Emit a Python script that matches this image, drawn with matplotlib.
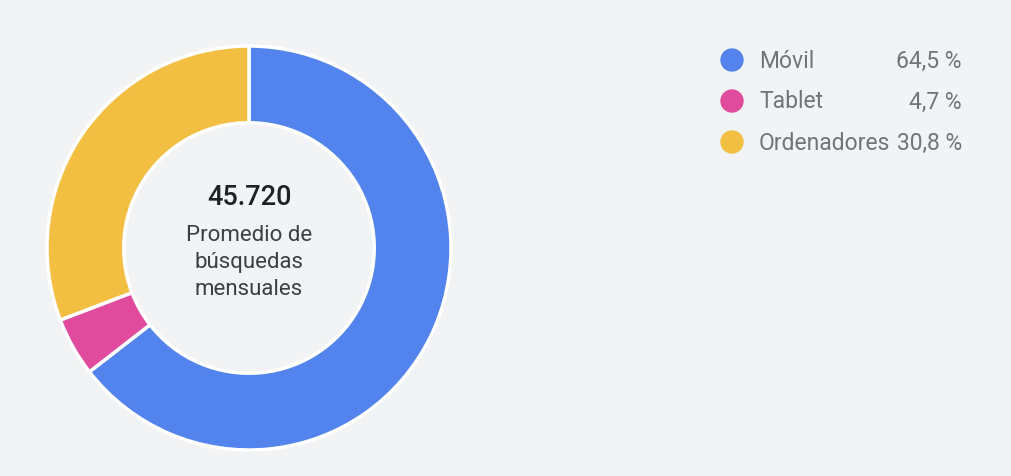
import matplotlib
matplotlib.use("Agg")
from matplotlib import pyplot as plt

# datos
categorias = ["Móvil", "Tablet", "Ordenadores"]
porcentajes = [64.5, 4.7, 30.8]
colores = ["#5384ED", "#E14B9E", "#F2BF42"]
total = "45.720"
subtitulo = "Promedio de\nbúsquedas\nmensuales"

fondo = "#F1F3F5"
plt.rcParams['font.family'] = ['Roboto', 'DejaVu Sans']

fig = plt.figure(figsize=(10.12, 4.76), dpi=100, facecolor=fondo)

# donut
ax = fig.add_axes([47/1012, 26/476, 404/1012, 404/476])
ax.set_facecolor(fondo)
ax.pie(porcentajes, colors=colores, startangle=90, counterclock=False,
       radius=1.0,
       wedgeprops=dict(width=0.38, edgecolor="white", linewidth=2.5))
ax.set_xlim(-1, 1)
ax.set_ylim(-1, 1)
ax.set_aspect("equal")
ax.axis("off")

ax.text(0, 0.25, total, ha="center", va="center", fontsize=19.5,
        fontweight="medium", color="#202124")
ax.text(0, -0.07, subtitulo, ha="center", va="center", fontsize=16,
        color="#3C4043", linespacing=1.38)

# leyenda
for i, (cat, p, c) in enumerate(zip(categorias, porcentajes, colores)):
    y = 1 - (61 + i * 41) / 476
    fig.patches.append(matplotlib.patches.Ellipse((732/1012, 1 - (60 + i * 41) / 476),
                                                  22/1012, 22/476,
                                                  transform=fig.transFigure,
                                                  color=c))
    fig.text(759/1012, y, cat, ha="left", va="center", fontsize=16.5,
             color="#70757A")
    fig.text(962/1012, y, ("%.1f %%" % p).replace(".", ","), ha="right",
             va="center", fontsize=16.5, color="#70757A")

fig.savefig("out.png", dpi=100, facecolor=fondo)
